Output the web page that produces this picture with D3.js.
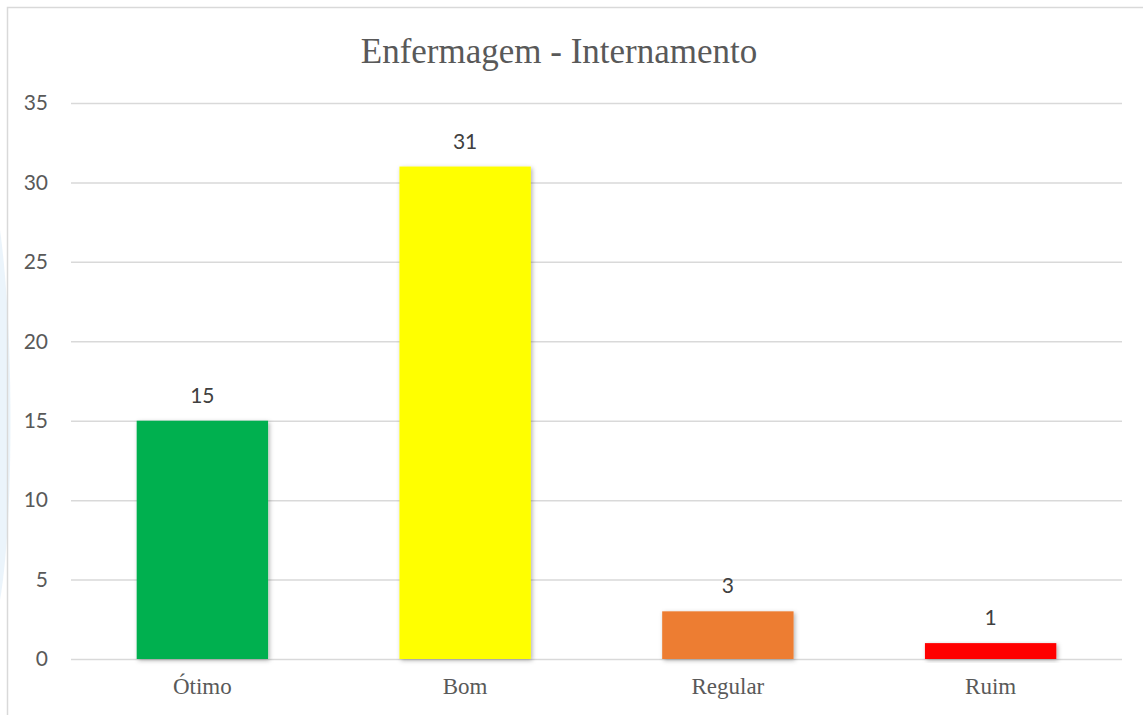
<!DOCTYPE html>
<html><head><meta charset="utf-8">
<script src="https://cdn.jsdelivr.net/npm/d3@7"></script>
<style>html,body{margin:0;padding:0;background:#fff;}</style>
</head><body>
<svg id="chart" width="1143" height="715"></svg>
<script>
const categories = ["Ótimo", "Bom", "Regular", "Ruim"];
const values = [15, 31, 3, 1];
const colors = ["#00B050", "#FFFF00", "#ED7D31", "#FF0000"];
const yTicks = [0, 5, 10, 15, 20, 25, 30, 35];
const title = "Enfermagem - Internamento";

const svg = d3.select("#chart");
const W = 1143, H = 715;
const m = {left: 71, right: 21, top: 103, bottom: 56};

// faint watermark on left edge
svg.append("path")
  .attr("d", "M0,230 C14,330 14,520 0,600 Z")
  .attr("fill", "#e6f1fa").attr("opacity", 0.8);

// border
svg.append("rect").attr("x", 7.5).attr("y", 7.5).attr("width", W).attr("height", H)
  .attr("fill", "none").attr("stroke", "#d9d9d9").attr("stroke-width", 1.5);

const defs = svg.append("defs");
const f = defs.append("filter").attr("id", "sh").attr("x", "-10%").attr("y", "-10%").attr("width", "130%").attr("height", "130%");
f.append("feDropShadow").attr("dx", 1.5).attr("dy", 1.5).attr("stdDeviation", 2).attr("flood-color", "#000").attr("flood-opacity", 0.3);

const x = d3.scaleBand().domain(categories).range([m.left, W - m.right]).paddingInner(0.5).paddingOuter(0.25);
const y = d3.scaleLinear().domain([0, 35]).range([H - m.bottom, m.top]);

// gridlines
const yAxis = d3.axisLeft(y).tickValues(yTicks).tickSize(-(W - m.right - m.left)).tickPadding(23);
const gy = svg.append("g").attr("transform", `translate(${m.left},0)`).call(yAxis);
gy.select(".domain").remove();
gy.selectAll(".tick line").attr("stroke", "#d9d9d9").attr("stroke-width", 1.5);
gy.selectAll(".tick text").attr("fill", "#595959").style("font-family", "Lato, 'Open Sans', sans-serif").style("font-size", "21px");

// bars
svg.append("g").selectAll("rect").data(values).join("rect")
  .attr("x", (d, i) => x(categories[i]))
  .attr("y", d => y(d))
  .attr("width", x.bandwidth())
  .attr("height", d => y(0) - y(d))
  .attr("fill", (d, i) => colors[i])
  .attr("filter", "url(#sh)");

// data labels
svg.append("g").selectAll("text").data(values).join("text")
  .attr("x", (d, i) => x(categories[i]) + x.bandwidth() / 2)
  .attr("y", d => y(d) - 18)
  .attr("text-anchor", "middle")
  .attr("fill", "#404040")
  .style("font-family", "Lato, 'Open Sans', sans-serif").style("font-size", "21px")
  .text(d => d);

// x labels
const xAxis = d3.axisBottom(x).tickSize(0).tickPadding(0);
const gx = svg.append("g").attr("transform", `translate(0,${H - m.bottom})`).call(xAxis);
gx.select(".domain").remove();
gx.selectAll(".tick text").attr("dy", null).attr("y", 35).attr("fill", "#595959")
  .style("font-family", "'Liberation Serif', 'Times New Roman', serif").style("font-size", "23px");

// title
svg.append("text").attr("x", 559).attr("y", 63).attr("text-anchor", "middle")
  .attr("fill", "#595959")
  .style("font-family", "'Liberation Serif', 'Times New Roman', serif").style("font-size", "35px")
  .text(title);
</script>
</body></html>
